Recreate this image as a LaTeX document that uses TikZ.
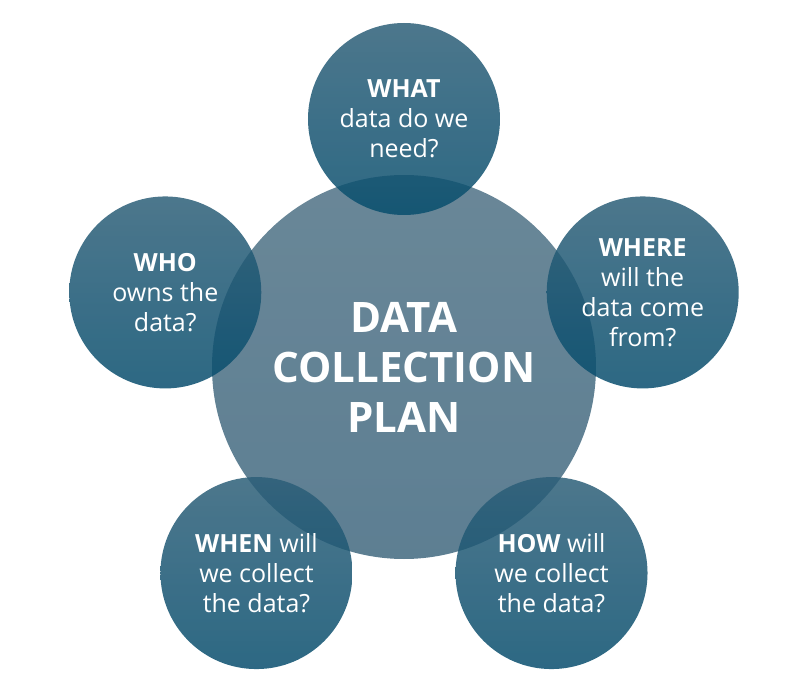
\documentclass[tikz,border=0pt]{standalone}
\usepackage{fontspec}
\setmainfont{Open Sans}
\definecolor{plantop}{RGB}{42,84,108}
\definecolor{planbottom}{RGB}{24,72,100}
\definecolor{ringtop}{RGB}{45,95,120}
\definecolor{ringbottom}{RGB}{8,78,110}
\tikzset{
  plancircle/.style={circle, minimum size=384pt, inner sep=0pt,
    top color=plantop, bottom color=planbottom, fill opacity=0.7,
    text opacity=1, text=white, align=center,
    font=\bfseries\fontsize{42}{50}\selectfont},
  ringcircle/.style={circle, minimum size=192pt, inner sep=0pt,
    top color=ringtop, bottom color=ringbottom, fill opacity=0.85,
    text opacity=1, text=white, align=center,
    font=\fontsize{25}{30}\selectfont},
}
\begin{document}
\begin{tikzpicture}[x=1pt,y=1pt]
    \useasboundingbox (-404,-318) rectangle (394,370);
    \node[plancircle] (plan) at (0,3) {DATA\\COLLECTION\\PLAN};
    % the five questions round the plan
    \foreach \ang/\name/\txt in {
        90/what/{\textbf{WHAT}\\data do we\\need?},
        18/where/{\textbf{WHERE}\\will the\\data come\\from?},
        306/how/{\textbf{HOW} will\\we collect\\the data?},
        234/when/{\textbf{WHEN} will\\we collect\\the data?},
        162/who/{\textbf{WHO}\\owns the\\data?}} {
        \node[ringcircle] (\name) at (\ang:251) {\txt};
    }
\end{tikzpicture}
\end{document}
